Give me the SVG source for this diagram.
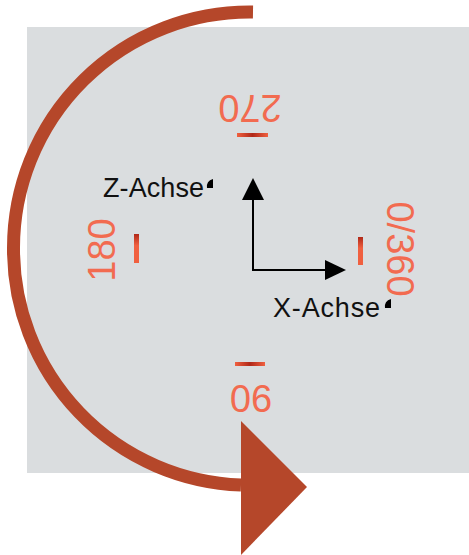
<svg xmlns="http://www.w3.org/2000/svg" width="469" height="555" viewBox="0 0 469 555">
<style>
.lbl{font-family:"Liberation Sans",Arial,sans-serif;font-size:38px;fill:#f26b50;text-anchor:middle}
.ax{font-family:"Liberation Sans",Arial,sans-serif;font-size:27px;fill:#111}
.axis{stroke:#000;stroke-width:2;fill:none}
</style>
<defs>
<linearGradient id="th" x1="0" y1="0" x2="1" y2="0">
<stop offset="0" stop-color="#f06040"/><stop offset="0.5" stop-color="#b02818"/><stop offset="1" stop-color="#f06040"/>
</linearGradient>
<linearGradient id="tv" x1="0" y1="0" x2="0" y2="1">
<stop offset="0" stop-color="#b02818"/><stop offset="0.4" stop-color="#f06040"/><stop offset="1" stop-color="#f06040"/>
</linearGradient>
</defs>
<rect x="27" y="27" width="442" height="446" fill="#dadddf"/>
<g id="rotation">
<path d="M253,12 A236,236 0 0 0 13.5,248 A236,236 0 0 0 241,485" fill="none" stroke="#b5472a" stroke-width="13"/>
<polygon points="241,421 307,487 241,555" fill="#b5472a"/>
</g>
<g id="ticks">
<rect x="237" y="133" width="31" height="4" fill="url(#th)"/>
<rect x="235" y="362" width="30" height="4" fill="url(#th)"/>
<rect x="134" y="234" width="5" height="29" fill="url(#tv)"/>
<rect x="358" y="237" width="5" height="28" fill="url(#tv)"/>
</g>
<g id="label-270"><text class="lbl" transform="translate(250,108) rotate(180)" dy="13">270</text></g>
<g id="label-90"><text class="lbl" transform="translate(251,398) rotate(180)" dy="13">90</text></g>
<g id="label-180"><text class="lbl" transform="translate(102,250) rotate(-90)" dy="13">180</text></g>
<g id="label-0-360"><text class="lbl" transform="translate(400,249) rotate(90)" dy="13">0/360</text></g>
<g id="connectors">
<path class="axis" d="M253,270 V198 M252,270 H327"/>
<polygon points="253,178 242,200 264,200" fill="#000"/>
<polygon points="346,270 325,260 325,280" fill="#000"/>
</g>
<g id="z-axis"><text class="ax" x="103" y="197" textLength="101">Z-Achse</text>
<path d="M213,179 q-7,2 -6,9 l6,0 z" fill="#000"/></g>
<g id="x-axis"><text class="ax" x="273" y="317" textLength="107">X-Achse</text>
<path d="M391,299 q-7,2 -6,9 l6,0 z" fill="#000"/></g>
</svg>
